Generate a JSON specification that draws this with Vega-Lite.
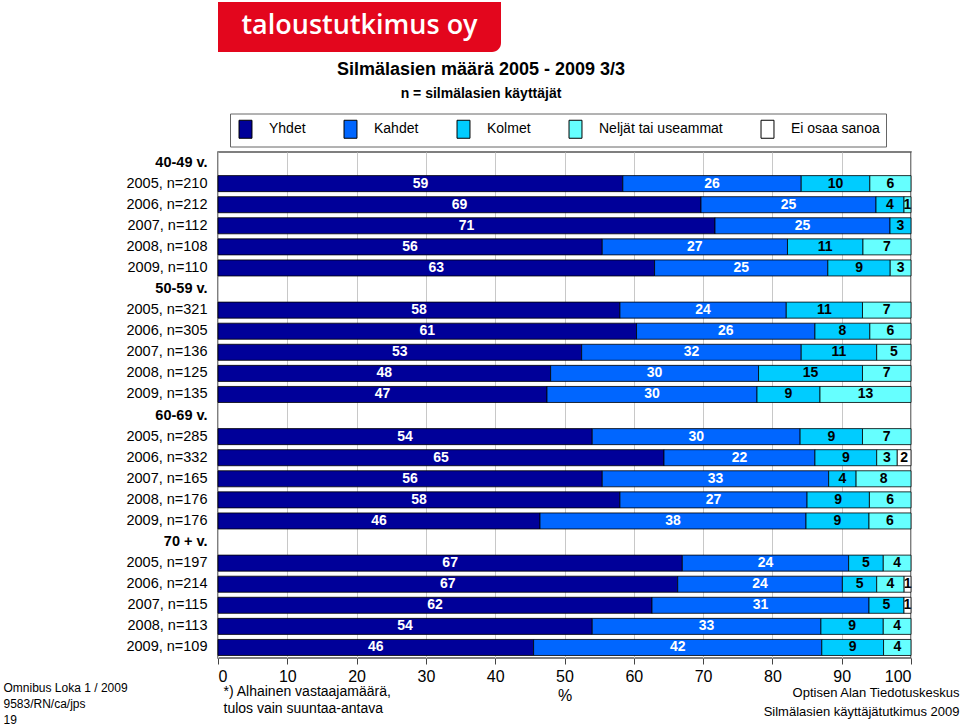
{
  "$schema": "https://vega.github.io/schema/vega-lite/v6.json",
  "background": "white",
  "padding": {"left": 2, "top": 2, "right": 0, "bottom": 0},
  "spacing": 8,
  "columns": 1,
  "resolve": {"scale": {"color": "independent"}, "legend": {"color": "independent"}},
  "config": {"font": "Liberation Sans", "view": {"stroke": null}},
  "concat": [
    {
      "width": 283,
      "height": 50,
      "data": {"values": [{"brand": "taloustutkimus oy"}]},
      "layer": [
        {
          "mark": {"type": "bar", "color": "#E3061D", "cornerRadiusBottomRight": 9},
          "encoding": {"y": {"field": "brand", "type": "nominal", "axis": null, "scale": {"paddingInner": 0, "paddingOuter": 0}}}
        },
        {
          "mark": {"type": "text", "color": "white", "font": "Open Sans", "fontSize": 27, "fontWeight": 600, "align": "center", "baseline": "middle", "dy": -1},
          "encoding": {"y": {"field": "brand", "type": "nominal", "axis": null}, "text": {"field": "brand"}}
        }
      ]
    },
    {
      "width": 693,
      "height": 506,
      "view": {"stroke": "#555555", "strokeWidth": 1.5},
      "title": {"text": "Silmälasien määrä  2005 - 2009 3/3", "subtitle": "n = silmälasien käyttäjät", "anchor": "middle", "frame": "bounds", "fontSize": 18, "fontWeight": "bold", "color": "#000", "font": "Liberation Sans", "subtitleFont": "Liberation Sans", "subtitleFontSize": 14, "subtitleFontWeight": "bold", "subtitleColor": "#000", "subtitlePadding": 8, "offset": 12},
      "data": {"values": [
        {"r": "2005, n=210", "c": "Yhdet", "o": 1, "v": 59},
        {"r": "2005, n=210", "c": "Kahdet", "o": 2, "v": 26},
        {"r": "2005, n=210", "c": "Kolmet", "o": 3, "v": 10},
        {"r": "2005, n=210", "c": "Neljät tai useammat", "o": 4, "v": 6},
        {"r": "2006, n=212", "c": "Yhdet", "o": 1, "v": 69},
        {"r": "2006, n=212", "c": "Kahdet", "o": 2, "v": 25},
        {"r": "2006, n=212", "c": "Kolmet", "o": 3, "v": 4},
        {"r": "2006, n=212", "c": "Neljät tai useammat", "o": 4, "v": 1},
        {"r": "2007, n=112", "c": "Yhdet", "o": 1, "v": 71},
        {"r": "2007, n=112", "c": "Kahdet", "o": 2, "v": 25},
        {"r": "2007, n=112", "c": "Kolmet", "o": 3, "v": 3},
        {"r": "2008, n=108", "c": "Yhdet", "o": 1, "v": 56},
        {"r": "2008, n=108", "c": "Kahdet", "o": 2, "v": 27},
        {"r": "2008, n=108", "c": "Kolmet", "o": 3, "v": 11},
        {"r": "2008, n=108", "c": "Neljät tai useammat", "o": 4, "v": 7},
        {"r": "2009, n=110", "c": "Yhdet", "o": 1, "v": 63},
        {"r": "2009, n=110", "c": "Kahdet", "o": 2, "v": 25},
        {"r": "2009, n=110", "c": "Kolmet", "o": 3, "v": 9},
        {"r": "2009, n=110", "c": "Neljät tai useammat", "o": 4, "v": 3},
        {"r": "2005, n=321", "c": "Yhdet", "o": 1, "v": 58},
        {"r": "2005, n=321", "c": "Kahdet", "o": 2, "v": 24},
        {"r": "2005, n=321", "c": "Kolmet", "o": 3, "v": 11},
        {"r": "2005, n=321", "c": "Neljät tai useammat", "o": 4, "v": 7},
        {"r": "2006, n=305", "c": "Yhdet", "o": 1, "v": 61},
        {"r": "2006, n=305", "c": "Kahdet", "o": 2, "v": 26},
        {"r": "2006, n=305", "c": "Kolmet", "o": 3, "v": 8},
        {"r": "2006, n=305", "c": "Neljät tai useammat", "o": 4, "v": 6},
        {"r": "2007, n=136", "c": "Yhdet", "o": 1, "v": 53},
        {"r": "2007, n=136", "c": "Kahdet", "o": 2, "v": 32},
        {"r": "2007, n=136", "c": "Kolmet", "o": 3, "v": 11},
        {"r": "2007, n=136", "c": "Neljät tai useammat", "o": 4, "v": 5},
        {"r": "2008, n=125", "c": "Yhdet", "o": 1, "v": 48},
        {"r": "2008, n=125", "c": "Kahdet", "o": 2, "v": 30},
        {"r": "2008, n=125", "c": "Kolmet", "o": 3, "v": 15},
        {"r": "2008, n=125", "c": "Neljät tai useammat", "o": 4, "v": 7},
        {"r": "2009, n=135", "c": "Yhdet", "o": 1, "v": 47},
        {"r": "2009, n=135", "c": "Kahdet", "o": 2, "v": 30},
        {"r": "2009, n=135", "c": "Kolmet", "o": 3, "v": 9},
        {"r": "2009, n=135", "c": "Neljät tai useammat", "o": 4, "v": 13},
        {"r": "2005, n=285", "c": "Yhdet", "o": 1, "v": 54},
        {"r": "2005, n=285", "c": "Kahdet", "o": 2, "v": 30},
        {"r": "2005, n=285", "c": "Kolmet", "o": 3, "v": 9},
        {"r": "2005, n=285", "c": "Neljät tai useammat", "o": 4, "v": 7},
        {"r": "2006, n=332", "c": "Yhdet", "o": 1, "v": 65},
        {"r": "2006, n=332", "c": "Kahdet", "o": 2, "v": 22},
        {"r": "2006, n=332", "c": "Kolmet", "o": 3, "v": 9},
        {"r": "2006, n=332", "c": "Neljät tai useammat", "o": 4, "v": 3},
        {"r": "2006, n=332", "c": "Ei osaa sanoa", "o": 5, "v": 2},
        {"r": "2007, n=165", "c": "Yhdet", "o": 1, "v": 56},
        {"r": "2007, n=165", "c": "Kahdet", "o": 2, "v": 33},
        {"r": "2007, n=165", "c": "Kolmet", "o": 3, "v": 4},
        {"r": "2007, n=165", "c": "Neljät tai useammat", "o": 4, "v": 8},
        {"r": "2008, n=176", "c": "Yhdet", "o": 1, "v": 58},
        {"r": "2008, n=176", "c": "Kahdet", "o": 2, "v": 27},
        {"r": "2008, n=176", "c": "Kolmet", "o": 3, "v": 9},
        {"r": "2008, n=176", "c": "Neljät tai useammat", "o": 4, "v": 6},
        {"r": "2009, n=176", "c": "Yhdet", "o": 1, "v": 46},
        {"r": "2009, n=176", "c": "Kahdet", "o": 2, "v": 38},
        {"r": "2009, n=176", "c": "Kolmet", "o": 3, "v": 9},
        {"r": "2009, n=176", "c": "Neljät tai useammat", "o": 4, "v": 6},
        {"r": "2005, n=197", "c": "Yhdet", "o": 1, "v": 67},
        {"r": "2005, n=197", "c": "Kahdet", "o": 2, "v": 24},
        {"r": "2005, n=197", "c": "Kolmet", "o": 3, "v": 5},
        {"r": "2005, n=197", "c": "Neljät tai useammat", "o": 4, "v": 4},
        {"r": "2006, n=214", "c": "Yhdet", "o": 1, "v": 67},
        {"r": "2006, n=214", "c": "Kahdet", "o": 2, "v": 24},
        {"r": "2006, n=214", "c": "Kolmet", "o": 3, "v": 5},
        {"r": "2006, n=214", "c": "Neljät tai useammat", "o": 4, "v": 4},
        {"r": "2006, n=214", "c": "Ei osaa sanoa", "o": 5, "v": 1},
        {"r": "2007, n=115", "c": "Yhdet", "o": 1, "v": 62},
        {"r": "2007, n=115", "c": "Kahdet", "o": 2, "v": 31},
        {"r": "2007, n=115", "c": "Kolmet", "o": 3, "v": 5},
        {"r": "2007, n=115", "c": "Ei osaa sanoa", "o": 5, "v": 1},
        {"r": "2008, n=113", "c": "Yhdet", "o": 1, "v": 54},
        {"r": "2008, n=113", "c": "Kahdet", "o": 2, "v": 33},
        {"r": "2008, n=113", "c": "Kolmet", "o": 3, "v": 9},
        {"r": "2008, n=113", "c": "Neljät tai useammat", "o": 4, "v": 4},
        {"r": "2009, n=109", "c": "Yhdet", "o": 1, "v": 46},
        {"r": "2009, n=109", "c": "Kahdet", "o": 2, "v": 42},
        {"r": "2009, n=109", "c": "Kolmet", "o": 3, "v": 9},
        {"r": "2009, n=109", "c": "Neljät tai useammat", "o": 4, "v": 4}
      ]},
      "resolve": {"axis": {"x": "independent", "y": "independent"}},
      "layer": [
        {
          "mark": {"type": "bar", "stroke": "#000000", "strokeWidth": 0.8},
          "encoding": {
            "y": {
              "field": "r", "type": "nominal", "sort": null,
              "scale": {"domain": ["40-49 v.", "2005, n=210", "2006, n=212", "2007, n=112", "2008, n=108", "2009, n=110", "50-59 v.", "2005, n=321", "2006, n=305", "2007, n=136", "2008, n=125", "2009, n=135", "60-69 v.", "2005, n=285", "2006, n=332", "2007, n=165", "2008, n=176", "2009, n=176", "70 + v.", "2005, n=197", "2006, n=214", "2007, n=115", "2008, n=113", "2009, n=109"], "paddingInner": 0.24, "paddingOuter": 0.12},
              "axis": {"orient": "left", "title": ["Omnibus Loka 1 / 2009", "9583/RN/ca/jps", "19"], "titleAngle": 0, "titleAlign": "left", "titleBaseline": "top", "titleX": -215, "titleY": 530, "titleFontSize": 12, "titleFontWeight": "normal", "titleColor": "#000", "titleLineHeight": 16, "labelFontSize": 14.5, "labelColor": "#000", "labelPadding": 11, "labelLimit": 200, "ticks": false, "tickSize": 0, "domain": false, "grid": false, "labelFontWeight": {"condition": {"test": "indexof(datum.value, ' v.') >= 0", "value": "bold"}, "value": "normal"}}
            },
            "x": {
              "field": "v", "type": "quantitative", "stack": "normalize",
              "scale": {"domain": [0, 1], "nice": false},
              "axis": {"orient": "bottom", "values": [0, 0.1, 0.2, 0.3, 0.4, 0.5, 0.6, 0.7, 0.8, 0.9, 1], "labelExpr": "format(datum.value * 100, '.0f')", "grid": true, "gridColor": "#c8c8c8", "domain": false, "ticks": true, "tickColor": "#444", "tickSize": 6, "labelFontSize": 16, "labelColor": "#000", "labelPadding": 4, "title": "%", "titleFontSize": 16, "titleFontWeight": "normal", "titleColor": "#000", "titlePadding": 3}
            },
            "color": {
              "field": "c", "type": "nominal",
              "scale": {"domain": ["Yhdet", "Kahdet", "Kolmet", "Neljät tai useammat", "Ei osaa sanoa"], "range": ["#000099", "#0066FF", "#00CCFF", "#66FFFF", "#FFFFFF"]},
              "legend": {"title": null, "orient": "none", "legendX": 12, "legendY": -38.5, "direction": "horizontal", "symbolType": "M-0.72,-1H0.72V1H-0.72Z", "symbolSize": 324, "symbolStrokeColor": "#000", "symbolStrokeWidth": 1, "symbolOpacity": 1, "labelFontSize": 14, "labelColor": "#000", "labelFont": "Liberation Sans", "labelOffset": 14, "columnPadding": 35, "padding": 6, "strokeColor": "#666666", "fillColor": "white"}
            },
            "order": {"field": "o", "type": "quantitative"}
          }
        },
        {
          "mark": {"type": "text", "fontSize": 14, "fontWeight": "bold", "font": "Liberation Sans", "align": "center", "baseline": "middle"},
          "encoding": {
            "y": {
              "field": "r", "type": "nominal", "sort": null,
              "scale": {"domain": ["40-49 v.", "2005, n=210", "2006, n=212", "2007, n=112", "2008, n=108", "2009, n=110", "50-59 v.", "2005, n=321", "2006, n=305", "2007, n=136", "2008, n=125", "2009, n=135", "60-69 v.", "2005, n=285", "2006, n=332", "2007, n=165", "2008, n=176", "2009, n=176", "70 + v.", "2005, n=197", "2006, n=214", "2007, n=115", "2008, n=113", "2009, n=109"], "paddingInner": 0.24, "paddingOuter": 0.12},
              "axis": {"orient": "right", "labels": false, "ticks": false, "tickSize": 0, "domain": false, "grid": false, "title": ["Optisen Alan Tiedotuskeskus", "Silmälasien käyttäjätutkimus 2009"], "titleAngle": 0, "titleAlign": "right", "titleBaseline": "top", "titleX": 48, "titleY": 534.5, "titleFontSize": 13, "titleFontWeight": "normal", "titleColor": "#000", "titleLineHeight": 19}
            },
            "x": {
              "field": "v", "type": "quantitative", "stack": "normalize", "bandPosition": 0.5,
              "scale": {"domain": [0, 1], "nice": false},
              "axis": {"orient": "top", "labels": false, "ticks": false, "tickSize": 0, "domain": false, "grid": false, "title": ["*) Alhainen vastaajamäärä,", "tulos vain suuntaa-antava"], "titleAngle": 0, "titleAlign": "left", "titleBaseline": "top", "titleX": 5, "titleY": 532.5, "titleFontSize": 14, "titleFontWeight": "normal", "titleColor": "#000", "titleLineHeight": 17}
            },
            "detail": {"field": "c"},
            "order": {"field": "o", "type": "quantitative"},
            "text": {"field": "v", "type": "quantitative"},
            "color": {"condition": {"test": "datum.o <= 2", "value": "white"}, "value": "black"}
          }
        }
      ]
    }
  ]
}
